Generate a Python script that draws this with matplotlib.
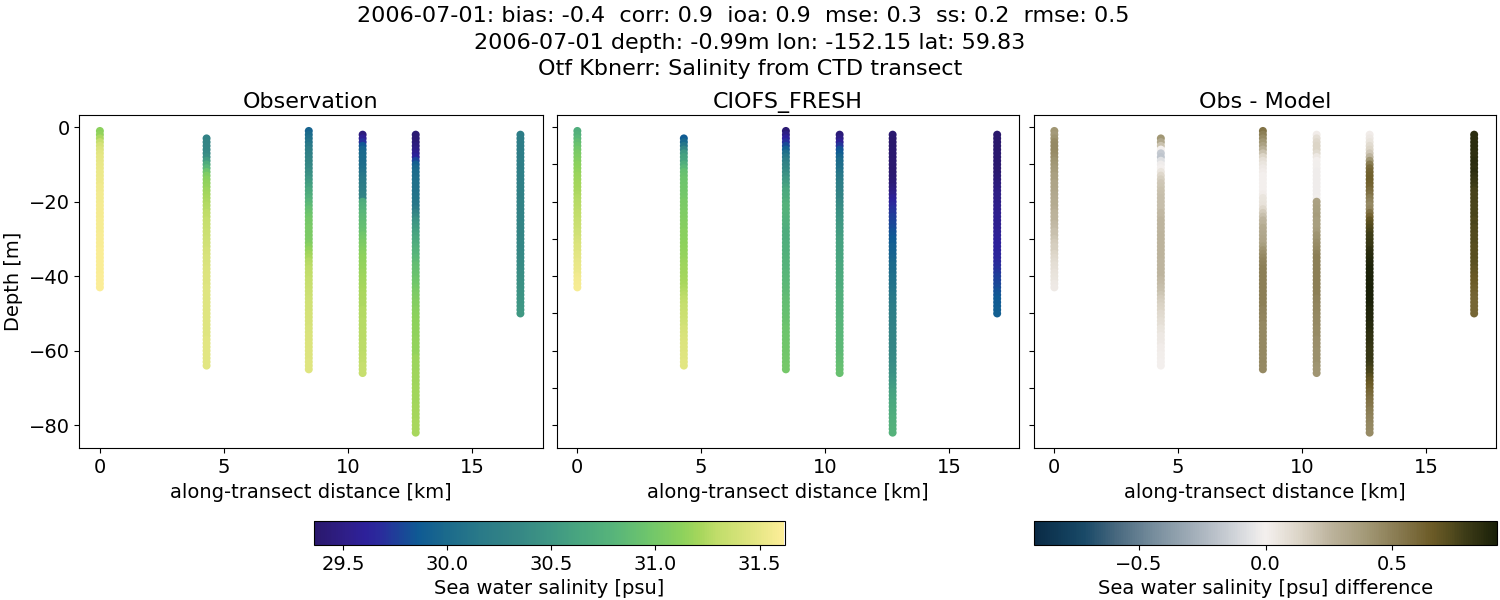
"""Salinity along a CTD transect: observation, model and their difference."""

import matplotlib

matplotlib.use("Agg")

import matplotlib.pyplot as plt
import numpy as np
from matplotlib.colors import LinearSegmentedColormap, Normalize

# along-transect position [km] and shallowest depth [m] of each cast
cast_km = [0.0, 4.3, 8.42, 10.59, 12.73, 16.95]
cast_top = [1, 3, 1, 2, 2, 2]

# salinity per cast, one value per metre going down
obs_casts = [
    [31.12, 31.15, 31.24, 31.33, 31.40, 31.44, 31.47, 31.49, 31.50, 31.51,
     31.52, 31.53, 31.53, 31.54, 31.54, 31.55, 31.55, 31.56, 31.56, 31.56,
     31.57, 31.57, 31.57, 31.57, 31.58, 31.58, 31.58, 31.58, 31.59, 31.59,
     31.59, 31.59, 31.60, 31.60, 31.60, 31.60, 31.60, 31.60, 31.60, 31.61,
     31.61, 31.61, 31.61],
    [30.28, 30.30, 30.32, 30.33, 30.36, 30.42, 30.55, 30.70, 30.82, 30.95,
     31.05, 31.10, 31.14, 31.16, 31.18, 31.20, 31.22, 31.24, 31.25, 31.26,
     31.29, 31.30, 31.32, 31.33, 31.34, 31.35, 31.36, 31.37, 31.38, 31.39,
     31.40, 31.41, 31.42, 31.42, 31.43, 31.44, 31.44, 31.45, 31.45, 31.45,
     31.46, 31.46, 31.46, 31.46, 31.46, 31.46, 31.46, 31.46, 31.46, 31.46,
     31.46, 31.46, 31.46, 31.46, 31.47, 31.47, 31.47, 31.47, 31.47, 31.47,
     31.47, 31.47],
    [29.95, 30.00, 30.05, 30.10, 30.15, 30.20, 30.24, 30.27, 30.30, 30.33,
     30.36, 30.40, 30.44, 30.50, 30.55, 30.60, 30.65, 30.70, 30.75, 30.80,
     30.85, 30.90, 30.94, 30.97, 31.00, 31.01, 31.02, 31.02, 31.03, 31.04,
     31.06, 31.10, 31.15, 31.19, 31.22, 31.25, 31.27, 31.29, 31.30, 31.31,
     31.32, 31.33, 31.34, 31.35, 31.36, 31.37, 31.38, 31.39, 31.39, 31.40,
     31.40, 31.41, 31.41, 31.42, 31.42, 31.43, 31.43, 31.44, 31.44, 31.45,
     31.45, 31.45, 31.46, 31.46, 31.46],
    [29.45, 29.58, 29.70, 29.85, 29.95, 29.98, 30.00, 30.01, 30.02, 30.04,
     30.08, 30.12, 30.15, 30.18, 30.21, 30.24, 30.27, 30.30,
     30.70, 30.74, 30.78, 30.81, 30.84, 30.86, 30.88, 30.90, 30.93, 30.97, 31.00,
     31.03, 31.05, 31.08, 31.11, 31.13, 31.14, 31.15, 31.16, 31.17, 31.18,
     31.19, 31.20, 31.21, 31.22, 31.23, 31.23, 31.24, 31.24, 31.25, 31.25,
     31.25, 31.26, 31.26, 31.26, 31.27, 31.27, 31.27, 31.28, 31.28, 31.28,
     31.29, 31.30, 31.31, 31.32, 31.32, 31.33],
    [29.40, 29.41, 29.42, 29.46, 29.50, 29.55, 29.62, 29.78, 29.90, 29.97,
     30.00, 30.02, 30.04, 30.05, 30.06, 30.07, 30.08, 30.10, 30.11, 30.12,
     30.18, 30.28, 30.36, 30.44, 30.50, 30.54, 30.58, 30.62, 30.65, 30.68,
     30.72, 30.76, 30.79, 30.82, 30.85, 30.88, 30.90, 30.92, 30.94, 30.96,
     30.97, 31.00, 31.02, 31.04, 31.06, 31.08, 31.09, 31.10, 31.11, 31.12,
     31.13, 31.13, 31.14, 31.14, 31.14, 31.15, 31.15, 31.15, 31.15, 31.16,
     31.18, 31.18, 31.18, 31.18, 31.19, 31.19, 31.19, 31.19, 31.20, 31.20,
     31.20, 31.20, 31.20, 31.21, 31.21, 31.21, 31.21, 31.22, 31.22, 31.22, 31.22],
    [30.21, 30.21, 30.21, 30.21, 30.21, 30.21, 30.21, 30.22, 30.22, 30.22,
     30.23, 30.23, 30.24, 30.24, 30.25, 30.25, 30.26, 30.26, 30.27, 30.27,
     30.28, 30.28, 30.29, 30.29, 30.30, 30.30, 30.31, 30.31, 30.32, 30.33,
     30.33, 30.34, 30.35, 30.36, 30.37, 30.38, 30.39, 30.40, 30.41, 30.42,
     30.43, 30.44, 30.45, 30.46, 30.47, 30.48, 30.49, 30.50, 30.51],
]
model_casts = [
    [30.72, 30.76, 30.82, 30.88, 30.94, 30.98, 31.02, 31.05, 31.08, 31.11,
     31.13, 31.15, 31.17, 31.18, 31.20, 31.21, 31.22, 31.24, 31.25, 31.26,
     31.27, 31.28, 31.30, 31.31, 31.32, 31.34, 31.35, 31.37, 31.38, 31.40,
     31.42, 31.44, 31.45, 31.47, 31.48, 31.50, 31.51, 31.52, 31.53, 31.55,
     31.56, 31.57, 31.58],
    [29.88, 29.98, 30.12, 30.33, 30.52, 30.60, 30.62, 30.72, 30.82, 30.90,
     30.93, 30.95, 30.96, 30.97, 30.98, 30.99, 31.00, 31.02, 31.03, 31.04,
     31.05, 31.06, 31.07, 31.08, 31.09, 31.10, 31.10, 31.11, 31.12, 31.13,
     31.14, 31.15, 31.16, 31.17, 31.18, 31.19, 31.19, 31.20, 31.21, 31.22,
     31.24, 31.25, 31.27, 31.29, 31.31, 31.32, 31.33, 31.35, 31.36, 31.37,
     31.38, 31.40, 31.41, 31.42, 31.43, 31.44, 31.45, 31.45, 31.46, 31.46,
     31.47, 31.47],
    [29.40, 29.50, 29.60, 29.70, 29.80, 29.92, 30.04, 30.14, 30.22, 30.28,
     30.33, 30.38, 30.44, 30.50, 30.55, 30.60, 30.65, 30.68, 30.70, 30.74,
     30.78, 30.78, 30.77, 30.76, 30.75, 30.74, 30.72, 30.71, 30.71, 30.71,
     30.72, 30.73, 30.74, 30.75, 30.76, 30.77, 30.78, 30.79, 30.80, 30.81,
     30.82, 30.83, 30.84, 30.85, 30.86, 30.87, 30.88, 30.89, 30.90, 30.91,
     30.92, 30.93, 30.94, 30.95, 30.95, 30.96, 30.96, 30.97, 30.97, 30.98,
     30.98, 30.99, 30.99, 31.00, 31.00],
    [29.43, 29.50, 29.58, 29.72, 29.82, 29.88, 29.96, 30.01, 30.03, 30.05,
     30.10, 30.14, 30.17, 30.20, 30.23, 30.26, 30.29, 30.31,
     30.35, 30.38, 30.41, 30.44, 30.46, 30.49, 30.51, 30.53, 30.55, 30.56, 30.58,
     30.59, 30.60, 30.61, 30.62, 30.63, 30.64, 30.65, 30.66, 30.67, 30.68,
     30.69, 30.70, 30.71, 30.72, 30.73, 30.74, 30.75, 30.76, 30.77, 30.78,
     30.79, 30.80, 30.80, 30.81, 30.82, 30.82, 30.83, 30.84, 30.84, 30.85,
     30.86, 30.87, 30.88, 30.90, 30.91, 30.92],
    [29.38, 29.37, 29.36, 29.36, 29.37, 29.37, 29.37, 29.38, 29.38, 29.38,
     29.38, 29.39, 29.40, 29.42, 29.44, 29.48, 29.52, 29.58, 29.62, 29.66,
     29.70, 29.72, 29.74, 29.76, 29.78, 29.80, 29.82, 29.84, 29.86, 29.88,
     29.91, 29.92, 29.93, 29.95, 29.97, 29.99, 30.00, 30.02, 30.04, 30.05,
     30.07, 30.09, 30.11, 30.13, 30.15, 30.17, 30.19, 30.21, 30.22, 30.24,
     30.25, 30.26, 30.27, 30.29, 30.30, 30.31, 30.32, 30.33, 30.34, 30.35,
     30.37, 30.38, 30.40, 30.42, 30.44, 30.47, 30.50, 30.53, 30.56, 30.59,
     30.61, 30.63, 30.65, 30.67, 30.69, 30.71, 30.72, 30.74, 30.75, 30.76, 30.77],
    [29.36, 29.36, 29.36, 29.36, 29.36, 29.37, 29.37, 29.37, 29.37, 29.38,
     29.38, 29.40, 29.42, 29.44, 29.46, 29.48, 29.50, 29.50, 29.51, 29.52,
     29.53, 29.53, 29.54, 29.55, 29.55, 29.56, 29.57, 29.58, 29.59, 29.60,
     29.61, 29.62, 29.63, 29.64, 29.66, 29.68, 29.70, 29.72, 29.74, 29.76,
     29.78, 29.80, 29.82, 29.84, 29.86, 29.87, 29.88, 29.89, 29.90],
]

panel_titles = ["Observation", "CIOFS_FRESH", "Obs - Model"]
title_lines = (
    "2006-07-01: bias: -0.4  corr: 0.9  ioa: 0.9  mse: 0.3  ss: 0.2  rmse: 0.5  \n"
    "2006-07-01 depth: -0.99m lon: -152.15 lat: 59.83\n"
    "Otf Kbnerr: Salinity from CTD transect"
)
x_ticks = [0, 5, 10, 15]
y_ticks = [0, -20, -40, -60, -80]
y_ticks_fine = [0, -10, -20, -30, -40, -50, -60, -70, -80]
sal_ticks = [29.5, 30.0, 30.5, 31.0, 31.5]
diff_ticks = [-0.5, 0.0, 0.5]

# stand-ins for the cmocean haline and diff maps
haline = LinearSegmentedColormap.from_list(
    "haline_like",
    [(0.0, "#2a186c"), (0.07, "#2f1f8a"), (0.106, "#2d209a"), (0.14, "#2a2b9c"),
     (0.22, "#0f5a94"), (0.28, "#1b6a8c"), (0.355, "#2a7a88"), (0.425, "#348585"),
     (0.5, "#3e9684"), (0.57, "#4aa77f"), (0.64, "#58b57a"), (0.71, "#6ec56c"),
     (0.785, "#8ed25c"), (0.82, "#a5d65c"), (0.855, "#bfdd69"), (0.925, "#dde47e"),
     (1.0, "#fdee99")],
)
diff = LinearSegmentedColormap.from_list(
    "diff_like",
    [(0.0, "#0a2a45"), (0.07, "#123f5c"), (0.11, "#1a4a68"), (0.18, "#4a6a80"),
     (0.25, "#728a9a"), (0.32, "#96a5b1"), (0.395, "#bcc3cb"), (0.47, "#e4e4e6"),
     (0.5, "#f4f0ee"), (0.57, "#ddd6c9"), (0.64, "#bdb49e"), (0.715, "#a49a78"),
     (0.79, "#87794f"), (0.86, "#6c5b27"), (0.9, "#544c1e"), (0.93, "#3f3d18"),
     (1.0, "#1a2008")],
)
sal_norm = Normalize(29.36, 31.62)
diff_norm = Normalize(-0.913, 0.913)

plt.rcParams["font.size"] = 14


def px_axes(fig, left, top, right, bottom):
    """Add axes from pixel edges measured from the top left of the figure."""
    w, h = fig.get_size_inches() * fig.dpi
    return fig.add_axes([left / w, 1 - bottom / h, (right - left) / w, (bottom - top) / h])


def flatten_casts(casts):
    xs, zs, vals = [], [], []
    for km, top, values in zip(cast_km, cast_top, casts):
        for i, value in enumerate(values):
            xs.append(km)
            zs.append(-(top + i))
            vals.append(value)
    return np.array(xs), np.array(zs), np.array(vals)


fig = plt.figure(figsize=(15, 6), dpi=100)
fig.text(0.5, 0.99, title_lines, ha="center", va="top", fontsize=16, linespacing=1.42)

x, z, obs = flatten_casts(obs_casts)
_, _, model = flatten_casts(model_casts)
panel_values = [obs, model, obs - model]
panel_cmaps = [haline, haline, diff]
panel_norms = [sal_norm, sal_norm, diff_norm]
panel_edges = [(79.3, 542.5), (556.8, 1019.2), (1033.8, 1496.2)]

for i, (left, right) in enumerate(panel_edges):
    ax = px_axes(fig, left, 115.3, right, 448.3)
    ax.scatter(x, z, c=panel_values[i], cmap=panel_cmaps[i], norm=panel_norms[i], s=33, linewidths=0)
    ax.set_xlim(-0.83, 17.84)
    ax.set_ylim(-86.2, 3.2)
    ax.set_xticks(x_ticks)
    ax.set_title(panel_titles[i], fontsize=16, pad=5)
    ax.set_xlabel("along-transect distance [km]")
    if i == 0:
        ax.set_yticks(y_ticks)
        ax.set_ylabel("Depth [m]")
    else:
        ax.set_yticks(y_ticks_fine)
        ax.tick_params(labelleft=False)

sal_cax = px_axes(fig, 314, 521, 784.5, 545)
sal_bar = fig.colorbar(plt.cm.ScalarMappable(norm=sal_norm, cmap=haline), cax=sal_cax, orientation="horizontal")
sal_bar.set_ticks(sal_ticks)
sal_bar.set_label("Sea water salinity [psu]")

diff_cax = px_axes(fig, 1034, 521, 1497, 545)
diff_bar = fig.colorbar(plt.cm.ScalarMappable(norm=diff_norm, cmap=diff), cax=diff_cax, orientation="horizontal")
diff_bar.set_ticks(diff_ticks)
diff_bar.set_label("Sea water salinity [psu] difference")

fig.savefig("out.png", dpi=100)
